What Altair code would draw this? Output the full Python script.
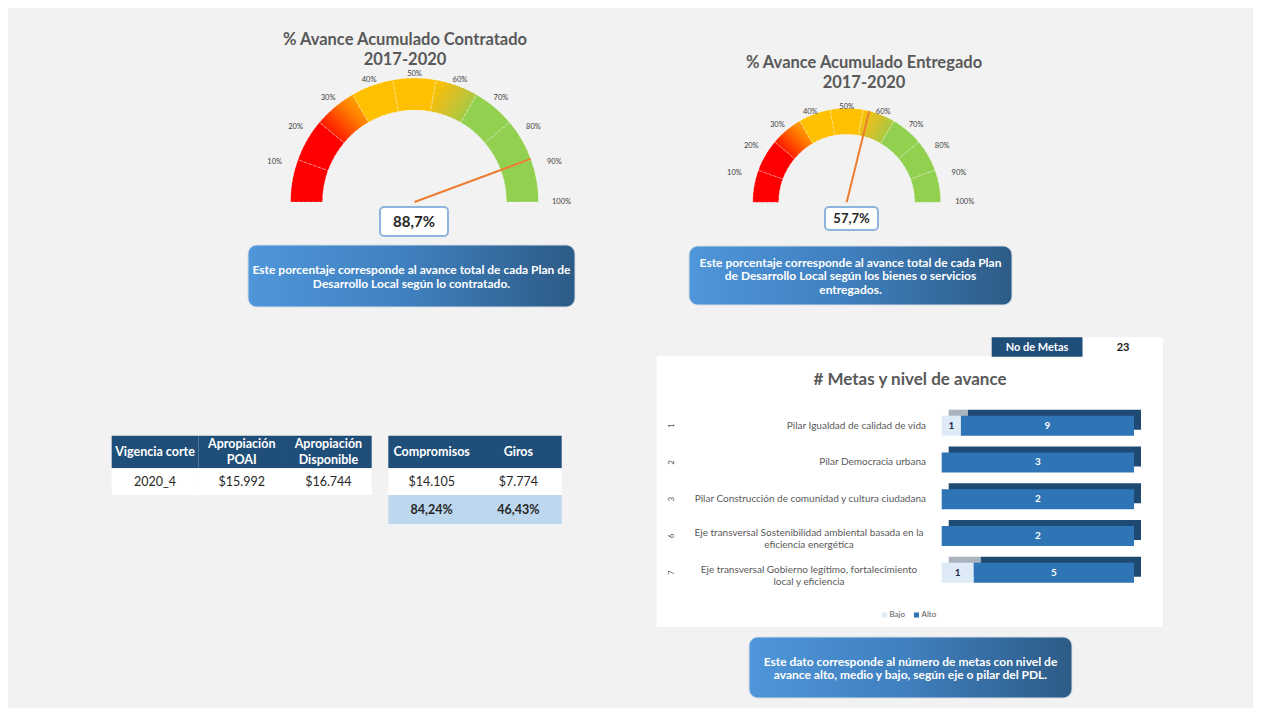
import math
import altair as alt
import pandas as pd

FONT = "Lato"
M = 8  # page margin


def P(v):
    return v - M


# ---------------- data ----------------
gauge_titles = ["% Avance Acumulado Contratado", "% Avance Acumulado Entregado"]
gauge_period = ["2017-2020", "2017-2020"]
gauge_values = [88.7, 57.7]
segment_edges = [0, 11.1, 22.2, 33.3, 44.4, 55.6, 66.7, 77.8, 88.9, 100]
segment_zones = ["Rojo", "Rojo", "Rojo-Amarillo", "Amarillo", "Amarillo",
                 "Amarillo-Verde", "Verde", "Verde", "Verde"]
tick_values = [10, 20, 30, 40, 50, 60, 70, 80, 90, 100]

info_texts = [
    "Este porcentaje corresponde al avance total de cada Plan de\nDesarrollo Local según lo contratado.",
    "Este porcentaje corresponde al avance total de cada Plan\nde Desarrollo Local según los bienes o servicios\nentregados.",
    "Este dato corresponde al número de metas con nivel de\navance alto, medio y bajo, según eje o pilar del PDL.",
]

t1_headers = ["Vigencia corte", "Apropiación\nPOAI", "Apropiación\nDisponible"]
t1_values = ["2020_4", "$15.992", "$16.744"]
t2_headers = ["Compromisos", "Giros"]
t2_values = ["$14.105", "$7.774"]
t2_percent = ["84,24%", "46,43%"]

metas_label = "No de Metas"
metas_total = 23
bar_title = "# Metas y nivel de avance"
bar_index = ["1", "2", "3", "6", "7"]
bar_categories = [
    "Pilar Igualdad de calidad de vida",
    "Pilar Democracia urbana",
    "Pilar Construcción de comunidad y cultura ciudadana",
    "Eje transversal Sostenibilidad ambiental basada en la\neficiencia energética",
    "Eje transversal Gobierno legítimo, fortalecimiento\nlocal y eficiencia",
]
bar_bajo = [1, 0, 0, 0, 1]
bar_alto = [9, 3, 2, 2, 5]
levels = ["Bajo", "Alto"]

GRAY = "#595959"


def one(s):
    return pd.DataFrame({"t": [s]})


def txt(s, x, y, lh=13, **kw):
    kw.setdefault("font", FONT)
    kw.setdefault("baseline", "middle")
    n = s.count("\n") + 1
    if n > 1:
        kw["lineBreak"] = "\n"
        kw["lineHeight"] = lh
        kw["dy"] = -(n - 1) * lh / 2
    return alt.Chart(one(s)).mark_text(**kw).encode(
        text="t:N", x=alt.value(P(x)), y=alt.value(P(y)))


def box(x0, y0, x1, y1, **kw):
    return alt.Chart(one("")).mark_rect(**kw).encode(
        x=alt.value(P(x0)), x2=alt.value(P(x1)), y=alt.value(P(y0)), y2=alt.value(P(y1)))


def grad(stops, x1=0, y1=0, x2=1, y2=0):
    return alt.Gradient(gradient="linear",
                        stops=[alt.GradientStop(color=c, offset=o) for c, o in stops],
                        x1=x1, y1=y1, x2=x2, y2=y2)


# ---------------- gauges ----------------
def gauge(i, cx, cy, R, r, ax, ay, tx, ty1, ty2, tfs, bx0, by0, bx1, by1, val_fs, tick_fs):
    cxp, cyp = P(cx), P(cy)
    seg = pd.DataFrame({"start": segment_edges[:-1], "end": segment_edges[1:], "zone": segment_zones})
    th = alt.Scale(domain=[0, 100], range=[1.5 * math.pi, 2.5 * math.pi])
    base = alt.Chart(seg)
    arc_kw = dict(radius=R, radius2=r, stroke="white", strokeWidth=0.8,
                  strokeDash=[3, 2], strokeOpacity=0.45)
    enc = dict(theta=alt.Theta("start:Q", scale=th, stack=None), theta2="end:Q",
               x=alt.value(cxp), y=alt.value(cyp))
    solid = base.transform_filter(
        alt.FieldOneOfPredicate(field="zone", oneOf=["Rojo", "Amarillo", "Verde"])
    ).mark_arc(**arc_kw).encode(
        color=alt.Color("zone:N", scale=alt.Scale(domain=["Rojo", "Amarillo", "Verde"],
                                                  range=["#ff0000", "#ffc000", "#92d050"]),
                        legend=None), **enc)
    g_ry = base.transform_filter(alt.datum.zone == "Rojo-Amarillo").mark_arc(
        color=grad([("#ff0000", 0), ("#ff2a00", 0.3), ("#ff7a00", 0.62), ("#ffc000", 1)],
                   x1=0, y1=1, x2=1, y2=0), **arc_kw).encode(**enc)
    g_yv = base.transform_filter(alt.datum.zone == "Amarillo-Verde").mark_arc(
        color=grad([("#ffc000", 0), ("#d6c02a", 0.45), ("#b0c83c", 0.75), ("#92d050", 1)],
                   x1=0, y1=0.2, x2=1, y2=0.8), **arc_kw).encode(**enc)

    needle = alt.Chart(pd.DataFrame({"v": [gauge_values[i]]})).transform_calculate(
        a="PI * (1 - datum.v / 100)",
        nx1=f"{cxp}", ny1=f"{cyp}",
        nx2=f"{cxp} + {R} * cos(datum.a)", ny2=f"{cyp} - {R} * sin(datum.a)",
    ).mark_rule(color="#ed7d31", strokeWidth=2).encode(
        x=alt.X("nx1:Q", scale=None), y=alt.Y("ny1:Q", scale=None), x2="nx2:Q", y2="ny2:Q")

    ticks = alt.Chart(pd.DataFrame({"v": tick_values})).transform_calculate(
        a="PI * (1 - datum.v / 100)",
        px=f"{cxp} + {ax} * cos(datum.a)", py=f"{cyp} - {ay} * sin(datum.a)",
        lbl="datum.v + '%'",
    ).mark_text(font=FONT, fontSize=tick_fs, color="#404040").encode(
        x=alt.X("px:Q", scale=None), y=alt.Y("py:Q", scale=None), text="lbl:N")

    vtxt = f"{gauge_values[i]:.1f}".replace(".", ",") + "%"
    vbox = box(bx0, by0, bx1, by1, fill="white", stroke="#8fb4de", strokeWidth=2, cornerRadius=4)
    vlab = txt(vtxt, (bx0 + bx1) / 2, (by0 + by1) / 2 + 0.5, fontSize=val_fs, fontWeight="bold",
               color="#262626")
    t1 = txt(gauge_titles[i], tx, ty1, fontSize=tfs, fontWeight="bold", color=GRAY)
    t2 = txt(gauge_period[i], tx, ty2, fontSize=tfs, fontWeight="bold", color=GRAY)
    return alt.layer(solid, g_ry, g_yv, needle, ticks, vbox, vlab, t1, t2)


gauge1 = gauge(0, 414.5, 202, 124, 92, 147, 128, 405, 40, 60, 16.5,
               380, 207, 448, 236, 15, 7.5)
gauge2 = gauge(1, 846.7, 202.3, 94, 68, 118, 95, 864, 63, 83, 16.5,
               825, 207, 878, 230, 13, 7.5)


# ---------------- info boxes ----------------
def info(i, x0, y0, x1, y1):
    b = box(x0, y0, x1, y1, cornerRadius=9, stroke="#d5dde6", strokeWidth=1,
            color=grad([("#4f96da", 0), ("#3f7fbd", 0.5), ("#2d5b86", 1)]))
    t = txt(info_texts[i], (x0 + x1) / 2, (y0 + y1) / 2 + 1, lh=13.4, fontSize=12,
            fontWeight="bold", color="white")
    return alt.layer(b, t)


info1 = info(0, 248, 245, 575, 307)
info2 = info(1, 689, 246, 1012, 305)
info3 = info(2, 749, 637, 1072, 698)


# ---------------- tables ----------------
def table(headers, rows, x0, x1, hy0, hy1, row_edges, row_styles):
    df = pd.DataFrame({"col": headers})
    df["multi"] = df["col"].str.contains("\n")
    for k, vals in enumerate(rows):
        df[f"r{k}"] = vals
    xs = alt.Scale(domain=headers, range=[P(x0), P(x1)], paddingInner=0, paddingOuter=0)
    X = alt.X("col:N", scale=xs, axis=None)
    base = alt.Chart(df)
    hkw = dict(font=FONT, fontSize=12.5, fontWeight="bold", color="white", baseline="middle")
    layers = [
        base.mark_rect(color="#1f4e79").encode(x=X, y=alt.value(P(hy0)), y2=alt.value(P(hy1))),
        base.transform_filter("!datum.multi").mark_text(**hkw).encode(
            x=X, y=alt.value(P((hy0 + hy1) / 2)), text="col:N"),
        base.transform_filter("datum.multi").mark_text(lineBreak="\n", lineHeight=16.5, dy=-8.25,
                                                       **hkw).encode(
            x=X, y=alt.value(P((hy0 + hy1) / 2)), text="col:N"),
    ]
    for k in range(len(rows)):
        bg, bold = row_styles[k]
        ya, yb = row_edges[k], row_edges[k + 1]
        layers.append(base.mark_rect(color=bg).encode(x=X, y=alt.value(P(ya)), y2=alt.value(P(yb))))
        layers.append(base.mark_text(font=FONT, fontSize=12.5, color="#262626",
                                     fontWeight="bold" if bold else "normal", baseline="middle").encode(
            x=X, y=alt.value(P((ya + yb) / 2)), text=f"r{k}:N"))
    return alt.layer(*layers)


table1 = table(t1_headers, [t1_values], 111.7, 371.7, 435.7, 468.3, [468.3, 495],
               [("white", False)])
table2 = table(t2_headers, [t2_values, t2_percent], 388.3, 561.7, 435.7, 468.3,
               [468.3, 495, 524], [("white", False), ("#bdd7ee", True)])


# ---------------- bar chart ----------------
rows = []
for k, cat in enumerate(bar_categories):
    rows.append({"cat": cat, "idx": bar_index[k], "level": "Bajo", "value": bar_bajo[k], "order": 0})
    rows.append({"cat": cat, "idx": bar_index[k], "level": "Alto", "value": bar_alto[k], "order": 1})
bdf = pd.DataFrame(rows)
cdf = pd.DataFrame({"cat": bar_categories, "idx": bar_index})
cdf["multi"] = cdf["cat"].str.contains("\n")

step = 36.75
ys = alt.Scale(domain=bar_categories, range=[P(425.7 - step / 2), P(425.7 + 4.5 * step)],
               paddingInner=0.4556, paddingOuter=0.2278)
xs = alt.Scale(domain=[0, 1], range=[P(941.7), P(1134)])
Y = alt.Y("cat:N", scale=ys, axis=None)
LEVEL_FRONT = alt.Scale(domain=levels, range=["#deebf7", "#2e75b6"])

stacked = alt.Chart(bdf).transform_filter("datum.value > 0").transform_stack(
    stack="value", groupby=["cat"], as_=["x0", "x1"], offset="normalize",
    sort=[alt.SortField("order", order="ascending")],
).transform_calculate(mid="(datum.x0 + datum.x1) / 2")

shadow = stacked.mark_rect(xOffset=7, x2Offset=7, yOffset=-6, y2Offset=-6).encode(
    x=alt.X("x0:Q", scale=xs, axis=None), x2="x1:Q", y=Y,
    fill=alt.Fill("level:N", scale=alt.Scale(domain=levels, range=["#a9b3bd", "#1f4a74"]),
                  legend=None))
front = stacked.mark_rect().encode(
    x=alt.X("x0:Q", scale=xs, axis=None), x2="x1:Q", y=Y,
    color=alt.Color("level:N", scale=LEVEL_FRONT, legend=None))
btext = stacked.mark_text(font=FONT, fontSize=10, fontWeight="bold", baseline="middle").encode(
    x=alt.X("mid:Q", scale=xs, axis=None), y=Y, text="value:Q",
    color=alt.condition("datum.level == 'Alto'", alt.value("white"), alt.value("#1f2d4f")))

cbase = alt.Chart(cdf)
clab1 = cbase.transform_filter("!datum.multi").mark_text(
    font=FONT, fontSize=10, color=GRAY, align="right", baseline="middle").encode(
    x=alt.value(P(926)), y=Y, text="cat:N")
clab2 = cbase.transform_filter("datum.multi").mark_text(
    font=FONT, fontSize=10, color=GRAY, align="center", baseline="middle",
    lineBreak="\n", lineHeight=12.5, dy=-3).encode(
    x=alt.value(P(809)), y=Y, text="cat:N")
cidx = cbase.mark_text(font=FONT, fontSize=8, color=GRAY, angle=270, baseline="middle").encode(
    x=alt.value(P(672)), y=Y, text="idx:N")

# manual legend
ldf = pd.DataFrame({"level": levels})
LX = alt.X("level:N", scale=alt.Scale(domain=levels, range=[P(884.5), P(916.5)], type="point",
                                      padding=0), axis=None)
leg_sym = alt.Chart(ldf).mark_square(size=26, opacity=1).encode(
    x=LX, y=alt.value(P(615)), color=alt.Color("level:N", scale=LEVEL_FRONT, legend=None))
leg_txt = alt.Chart(ldf).mark_text(font=FONT, fontSize=8, color=GRAY, align="left",
                                   baseline="middle", dx=5).encode(
    x=LX, y=alt.value(P(615)), text="level:N")
legend = alt.layer(leg_sym, leg_txt)

panel = box(656.7, 356, 1163, 627, color="white")
mbox1 = box(991.7, 337.3, 1082.7, 356.7, color="#1f4e79")
mbox2 = box(1082.7, 337.3, 1163, 356.7, color="white")
mt1 = txt(metas_label, 1037, 347.5, fontSize=11, fontWeight="bold", color="white")
mt2 = txt(str(metas_total), 1123, 347.5, fontSize=11, fontWeight="bold", color="#1a1a1a")
ptitle = txt(bar_title, 910, 380, fontSize=17, fontWeight="bold", color=GRAY)

barpanel = alt.layer(panel, mbox1, mbox2, mt1, mt2, ptitle, shadow, front, btext, clab1, clab2, cidx)

chart = alt.layer(
    gauge1, gauge2, info1, info2, info3, table1, table2, barpanel, legend
).resolve_scale(
    x="independent", y="independent", color="independent", fill="independent", theta="independent"
).properties(
    width=1245, height=700, background="#f2f2f2", padding=0, autosize="none"
).configure_view(stroke=None)

chart.save("out.html", embed_options={"renderer": "svg", "actions": False})
